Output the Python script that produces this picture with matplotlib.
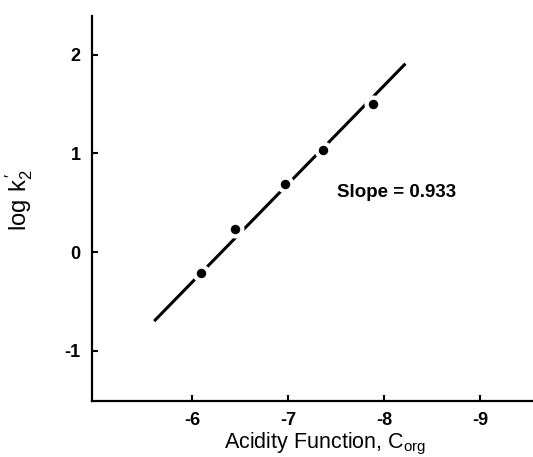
import matplotlib
matplotlib.use("Agg")
import matplotlib.pyplot as plt
import numpy as np

plt.rcParams['font.family'] = ['Liberation Sans', 'DejaVu Sans']
plt.rcParams['axes.unicode_minus'] = False
plt.rcParams['mathtext.fontset'] = 'custom'
plt.rcParams['mathtext.rm'] = 'Liberation Sans'

# data
acidity = [-6.09, -6.44, -6.96, -7.36, -7.88]
log_k2 = [-0.21, 0.23, 0.69, 1.03, 1.50]
fit_x = [-5.60, -8.22]
fit_y = [-0.70, 1.91]
x_ticks = [-6, -7, -8, -9]
y_ticks = [-1, 0, 1, 2]
slope_label = "Slope = 0.933"

fig = plt.figure(figsize=(5.33, 4.57), dpi=100)
ax = fig.add_axes([0.1722, 0.1225, 0.8278, 0.8418])

ax.plot(fit_x, fit_y, color='black', lw=2.2, solid_capstyle='butt', zorder=2)
ax.plot(acidity, log_k2, 'o', color='white', ms=13, mec='none', zorder=3)
ax.plot(acidity, log_k2, 'o', color='black', ms=6.8, mec='none', zorder=4)

ax.set_xlim(-4.95, -9.55)
ax.set_ylim(-1.51, 2.39)
ax.set_xticks(x_ticks)
ax.set_yticks(y_ticks)
ax.set_xticklabels([str(v) for v in x_ticks], fontsize=13, fontweight='bold')
ax.set_yticklabels([str(v) for v in y_ticks], fontsize=13, fontweight='bold')

for s in ['top', 'right']:
    ax.spines[s].set_visible(False)
for s in ['left', 'bottom']:
    ax.spines[s].set_linewidth(1.6)
ax.tick_params(direction='in', length=4, width=1.5, pad=8)

ax.text(-7.51, 0.60, slope_label, ha='left', va='center', fontsize=13.5, fontweight='bold')

fig.text(325/533, 9/457, r"Acidity Function, $\mathregular{C_{org}}$", ha='center', va='baseline', fontsize=15.5)
fig.text(19/533, 1-200/457, r"$\mathregular{log\ k_{2}^{\,\prime}}$", ha='center', va='center', rotation=90, fontsize=17)

fig.savefig("out.png", dpi=100)
